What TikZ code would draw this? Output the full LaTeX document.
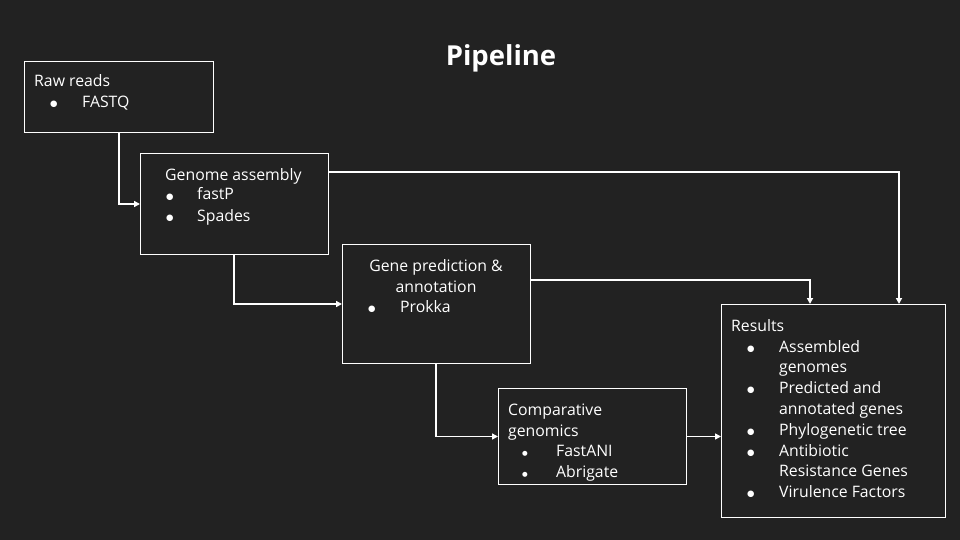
\documentclass[tikz,border=0pt]{standalone}
\usepackage{fontspec}
\setmainfont{Open Sans}
\newfontfamily\symfont{DejaVu Sans}
\usetikzlibrary{arrows.meta}
\definecolor{bg}{HTML}{222222}
\begin{document}
\begin{tikzpicture}[x=1pt,y=-1pt,
  box/.style={draw=white,line width=1pt,anchor=north west,inner sep=0pt,minimum width=#1},
  box/.default=100pt,
  txt/.style={anchor=base west,inner sep=0pt,text=white,font=\fontsize{15.8}{18}\selectfont},
  bul/.style={anchor=base west,inner sep=0pt,text=white,font=\symfont\fontsize{8.5}{10}\selectfont},
  sbul/.style={bul,font=\symfont\fontsize{6.5}{8}\selectfont},
  arr/.style={draw=white,line width=1.6pt,-{Triangle[width=6pt,length=6pt]}}]
\fill[bg] (0,0) rectangle (960,540);
\useasboundingbox (0,0) rectangle (960,540);
\node[anchor=base,text=white,font=\bfseries\fontsize{27.5}{32}\selectfont,inner sep=0pt] (title) at (501,66) {Pipeline};
% boxes
\node[box=189pt,minimum height=71pt] (raw) at (24,61) {};
\node[box=188pt,minimum height=101pt] (gen) at (140,153) {};
\node[box=188pt,minimum height=119pt] (gpa) at (342,244) {};
\node[box=188pt,minimum height=96pt] (cmp) at (498,388) {};
\node[box=224pt,minimum height=213pt] (res) at (721,304) {};
% texts
\node[txt] (t1) at (34,87) {Raw reads};
\node[bul] (b1) at (50,107) {●};
\node[txt] (t1a) at (82,108) {FASTQ};
\node[txt] (t2) at (165,180) {Genome assembly};
\node[bul] (b2a) at (166,199) {●};
\node[txt] (t2a) at (197,200) {fastP};
\node[bul] (b2b) at (166,220) {●};
\node[txt] (t2b) at (197,221) {Spades};
\node[txt,anchor=base] (t3) at (436,271) {Gene prediction \&};
\node[txt,anchor=base] (t3b) at (436,292) {annotation};
\node[bul] (b3) at (368,311) {●};
\node[txt] (t3c) at (400,312) {Prokka};
\node[txt] (t4) at (508,415) {Comparative};
\node[txt] (t4b) at (508,436) {genomics};
\node[sbul] (b4a) at (522,455) {●};
\node[txt] (t4c) at (556,456) {FastANI};
\node[sbul] (b4b) at (522,476) {●};
\node[txt] (t4d) at (556,477) {Abrigate};
\node[txt] (t5) at (731,331) {Results};
\node[bul] (b5a) at (747,351) {●};
\node[txt] (t5a) at (779,352) {Assembled};
\node[txt] (t5b) at (779,372) {genomes};
\node[bul] (b5c) at (747,392) {●};
\node[txt] (t5c) at (779,393) {Predicted and};
\node[txt] (t5d) at (779,414) {annotated genes};
\node[bul] (b5e) at (747,434) {●};
\node[txt] (t5e) at (779,435) {Phylogenetic tree};
\node[bul] (b5f) at (747,455) {●};
\node[txt] (t5f) at (779,456) {Antibiotic};
\node[txt] (t5g) at (779,476) {Resistance Genes};
\node[bul] (b5h) at (747,496) {●};
\node[txt] (t5h) at (779,497) {Virulence Factors};
% connectors
\draw[arr] ([xshift=95pt]raw.south west) |- (gen.west);
\draw[arr] ([xshift=94pt]gen.south west) |- (gpa.west);
\draw[arr] ([xshift=94pt]gpa.south west) |- (cmp.west);
\draw[arr] (cmp.east) -- (cmp.east -| res.west);
\draw[arr] ([yshift=-19pt]gen.north east) -| ([xshift=178pt]res.north west);
\draw[arr] ([yshift=-36pt]gpa.north east) -| ([xshift=89pt]res.north west);
\end{tikzpicture}
\end{document}
